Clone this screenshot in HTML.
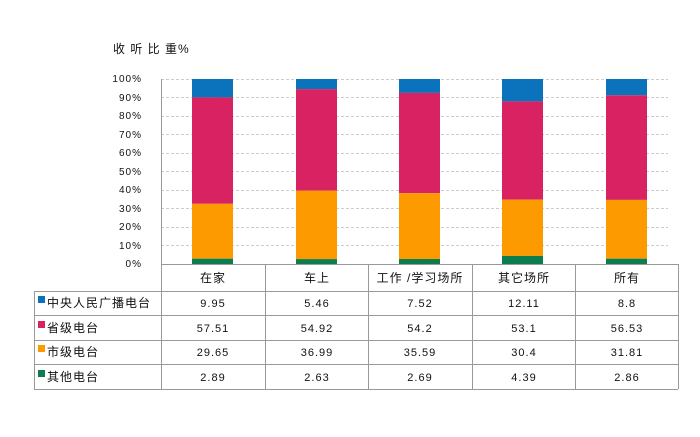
<!DOCTYPE html>
<html><head><meta charset="utf-8"><style>
body{margin:0;background:#fff;}
svg text{font-family:"Liberation Sans","Noto Sans CJK SC",sans-serif;fill:#111;}
</style></head><body>
<svg width="700" height="432" xmlns="http://www.w3.org/2000/svg">
<text x="113" y="53" font-size="12" letter-spacing="1">收  听  比  重%</text>
<g stroke="#ccc" stroke-dasharray="3,2" stroke-width="1">
<line x1="161" y1="79.5" x2="668" y2="79.5"/><line x1="161" y1="97.5" x2="668" y2="97.5"/>
<line x1="161" y1="116.5" x2="668" y2="116.5"/><line x1="161" y1="134.5" x2="668" y2="134.5"/>
<line x1="161" y1="153.5" x2="668" y2="153.5"/><line x1="161" y1="171.5" x2="668" y2="171.5"/>
<line x1="161" y1="190.5" x2="668" y2="190.5"/><line x1="161" y1="208.5" x2="668" y2="208.5"/>
<line x1="161" y1="227.5" x2="668" y2="227.5"/><line x1="161" y1="245.5" x2="668" y2="245.5"/>
</g>
<g font-size="10" text-anchor="end" letter-spacing="1">
<text x="142" y="82">100%</text><text x="142" y="101">90%</text><text x="142" y="119">80%</text>
<text x="142" y="138">70%</text><text x="142" y="156">60%</text><text x="142" y="175">50%</text>
<text x="142" y="193">40%</text><text x="142" y="212">30%</text><text x="142" y="230">20%</text>
<text x="142" y="249">10%</text><text x="142" y="267">0%</text>
</g>
<g>
<rect x="192" y="79" width="41" height="18.4" fill="#0b72bc"/>
<rect x="192" y="97.4" width="41" height="106.4" fill="#d92262"/>
<rect x="192" y="203.8" width="41" height="54.9" fill="#fd9a00"/>
<rect x="192" y="258.7" width="41" height="5.3" fill="#0b7d4f"/>

<rect x="296" y="79" width="41" height="10.1" fill="#0b72bc"/>
<rect x="296" y="89.1" width="41" height="101.6" fill="#d92262"/>
<rect x="296" y="190.7" width="41" height="68.4" fill="#fd9a00"/>
<rect x="296" y="259.1" width="41" height="4.9" fill="#0b7d4f"/>

<rect x="399" y="79" width="41" height="13.9" fill="#0b72bc"/>
<rect x="399" y="92.9" width="41" height="100.3" fill="#d92262"/>
<rect x="399" y="193.2" width="41" height="65.8" fill="#fd9a00"/>
<rect x="399" y="259" width="41" height="5" fill="#0b7d4f"/>

<rect x="502" y="79" width="41" height="22.4" fill="#0b72bc"/>
<rect x="502" y="101.4" width="41" height="98.2" fill="#d92262"/>
<rect x="502" y="199.6" width="41" height="56.3" fill="#fd9a00"/>
<rect x="502" y="255.9" width="41" height="8.1" fill="#0b7d4f"/>

<rect x="606" y="79" width="41" height="16.3" fill="#0b72bc"/>
<rect x="606" y="95.3" width="41" height="104.6" fill="#d92262"/>
<rect x="606" y="199.9" width="41" height="58.8" fill="#fd9a00"/>
<rect x="606" y="258.7" width="41" height="5.3" fill="#0b7d4f"/>
</g>
<g stroke="#999" stroke-width="1" fill="none">
<line x1="161.5" y1="79" x2="161.5" y2="264"/>
<line x1="161" y1="264.5" x2="678" y2="264.5"/>
<line x1="678.5" y1="264" x2="678.5" y2="389"/>
<line x1="34.5" y1="291" x2="34.5" y2="389"/>
<line x1="161.5" y1="264" x2="161.5" y2="389"/>
<line x1="265.5" y1="264" x2="265.5" y2="389"/>
<line x1="368.5" y1="264" x2="368.5" y2="389"/>
<line x1="472.5" y1="264" x2="472.5" y2="389"/>
<line x1="575.5" y1="264" x2="575.5" y2="389"/>
<line x1="34" y1="291.5" x2="678" y2="291.5"/>
<line x1="34" y1="315.5" x2="678" y2="315.5"/>
<line x1="34" y1="340.5" x2="678" y2="340.5"/>
<line x1="34" y1="364.5" x2="678" y2="364.5"/>
<line x1="34" y1="389.5" x2="678" y2="389.5"/>
</g>
<g font-size="12" text-anchor="middle" letter-spacing="1">
<text x="213" y="282">在家</text><text x="317" y="282">车上</text><text x="420" y="282">工作 /学习场所</text>
<text x="524" y="282">其它场所</text><text x="627" y="282">所有</text>
</g>
<g font-size="12" letter-spacing="1">
<rect x="38" y="296" width="7" height="7" fill="#0b72bc"/><text x="47" y="307">中央人民广播电台</text>
<rect x="38" y="321" width="7" height="7" fill="#d92262"/><text x="47" y="332">省级电台</text>
<rect x="38" y="345" width="7" height="7" fill="#fd9a00"/><text x="47" y="356">市级电台</text>
<rect x="38" y="370" width="7" height="7" fill="#0b7d4f"/><text x="47" y="381">其他电台</text>
</g>
<g font-size="11" text-anchor="middle" letter-spacing="1">
<text x="213" y="307">9.95</text><text x="317" y="307">5.46</text><text x="420" y="307">7.52</text><text x="524" y="307">12.11</text><text x="627" y="307">8.8</text>
<text x="213" y="332">57.51</text><text x="317" y="332">54.92</text><text x="420" y="332">54.2</text><text x="524" y="332">53.1</text><text x="627" y="332">56.53</text>
<text x="213" y="356">29.65</text><text x="317" y="356">36.99</text><text x="420" y="356">35.59</text><text x="524" y="356">30.4</text><text x="627" y="356">31.81</text>
<text x="213" y="381">2.89</text><text x="317" y="381">2.63</text><text x="420" y="381">2.69</text><text x="524" y="381">4.39</text><text x="627" y="381">2.86</text>
</g>
</svg>
</body></html>
